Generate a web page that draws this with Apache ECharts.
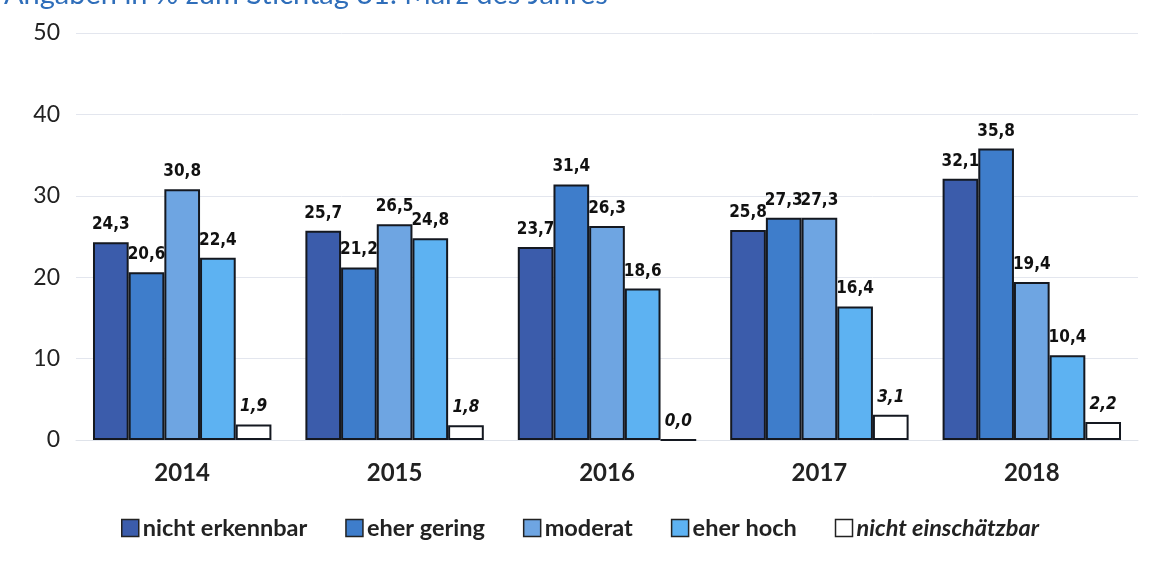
<!DOCTYPE html>
<html>
<head>
<meta charset="utf-8">
<script src="https://cdn.jsdelivr.net/npm/echarts@6/dist/echarts.min.js"></script>
<style>
html,body{margin:0;padding:0;background:#fff;}
#chart{width:1160px;height:562px;}
</style>
</head>
<body>
<div id="chart"></div>
<script>
const categories = ['2014', '2015', '2016', '2017', '2018'];
const seriesNames = ['nicht erkennbar', 'eher gering', 'moderat', 'eher hoch', 'nicht einschätzbar'];
const nichtErkennbar = [24.3, 25.7, 23.7, 25.8, 32.1];
const eherGering = [20.6, 21.2, 31.4, 27.3, 35.8];
const moderat = [30.8, 26.5, 26.3, 27.3, 19.4];
const eherHoch = [22.4, 24.8, 18.6, 16.4, 10.4];
const nichtEinschaetzbar = [1.9, 1.8, 0.0, 3.1, 2.2];
const yTicks = [0, 10, 20, 30, 40, 50];
const titleText = 'Angaben in % zum Stichtag 31. März des Jahres';

const seriesData = [nichtErkennbar, eherGering, moderat, eherHoch, nichtEinschaetzbar];
const colors = ['#3B5CAB', '#3E7DCB', '#6EA5E2', '#5DB2F2', '#FFFFFF'];

const chart = echarts.init(document.getElementById('chart'), null, {renderer: 'canvas'});
const labelFont = '"DejaVu Sans", sans-serif';
const mainFont = 'Lato, "Open Sans", "Noto Sans", sans-serif';

chart.setOption({
  animation: false,
  backgroundColor: '#fff',
  title: {
    text: titleText,
    left: -1,
    top: -25,
    textStyle: {color: '#2F6EBA', fontSize: 29, fontWeight: 'normal', fontFamily: mainFont}
  },
  legend: {
    bottom: 17,
    left: 'center',
    padding: [5, 5, 5, 25],
    itemWidth: 17,
    itemHeight: 17,
    itemGap: 38,
    icon: 'rect',
    data: seriesNames.map((n, i) => ({
      name: n,
      textStyle: {fontStyle: i === 4 ? 'italic' : 'normal'}
    })),
    textStyle: {fontSize: 23.5, fontWeight: 'bold', color: '#222', fontFamily: mainFont, padding: [0, 0, 0, -1]},
    itemStyle: {borderColor: '#222', borderWidth: 1.5}
  },
  grid: {left: 76, right: 22, top: 33, bottom: 122, containLabel: false},
  xAxis: {
    type: 'category',
    data: categories,
    axisLine: {show: true, lineStyle: {color: '#dfe3ea', width: 1}},
    axisTick: {show: false},
    axisLabel: {fontSize: 24, fontWeight: 'bold', color: '#222', margin: 21, fontFamily: mainFont}
  },
  yAxis: {
    type: 'value',
    min: yTicks[0],
    max: yTicks[yTicks.length - 1],
    interval: 10,
    axisLine: {show: false},
    axisTick: {show: false},
    splitLine: {lineStyle: {color: '#e3e6ee', width: 1}},
    axisLabel: {fontSize: 23, color: '#222', margin: 16, fontFamily: mainFont}
  },
  series: seriesData.map((d, i) => ({
    name: seriesNames[i],
    type: 'bar',
    data: d,
    barGap: '0%',
    barCategoryGap: '16%',
    itemStyle: {color: colors[i], borderColor: '#141820', borderWidth: 2},
    label: {
      show: true,
      position: 'top',
      distance: 9,
      formatter: p => p.value.toFixed(1).replace('.', ','),
      fontSize: 17,
      fontWeight: 'bold',
      fontStyle: i === 4 ? 'italic condensed' : 'condensed',
      color: '#111',
      fontFamily: labelFont
    }
  }))
});
</script>
</body>
</html>
